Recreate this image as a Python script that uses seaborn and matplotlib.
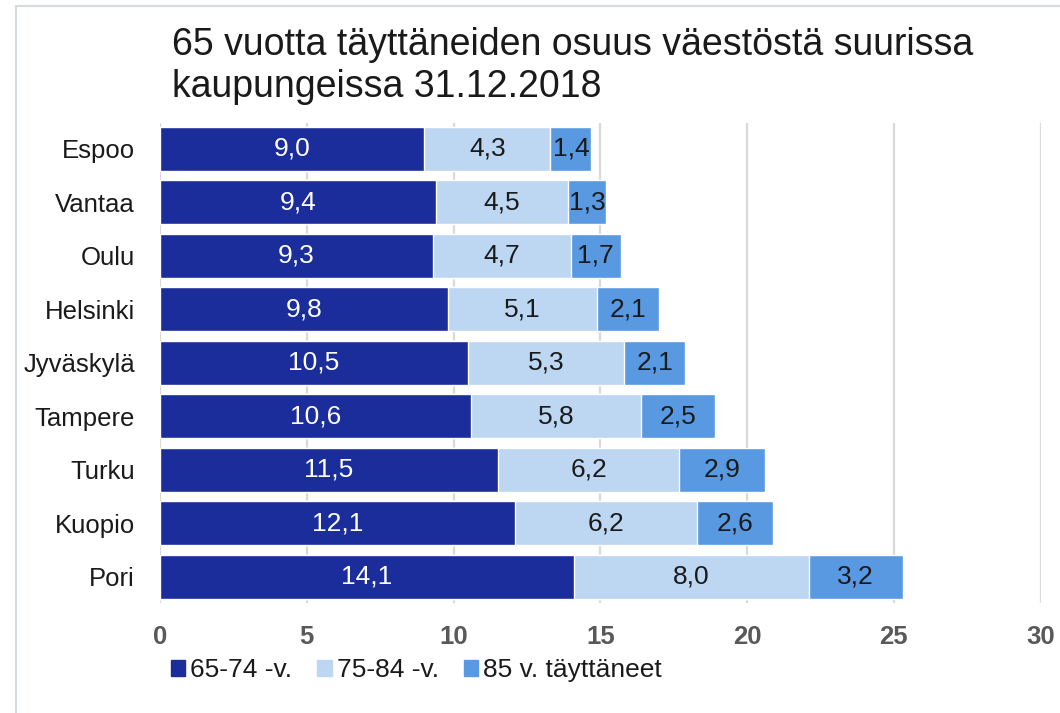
import matplotlib
matplotlib.use("Agg")
import matplotlib.pyplot as plt
import matplotlib.patches as mpatches
import seaborn as sns
import pandas as pd

cities = ["Espoo", "Vantaa", "Oulu", "Helsinki", "Jyväskylä", "Tampere", "Turku", "Kuopio", "Pori"]
age_65_74 = [9.0, 9.4, 9.3, 9.8, 10.5, 10.6, 11.5, 12.1, 14.1]
age_75_84 = [4.3, 4.5, 4.7, 5.1, 5.3, 5.8, 6.2, 6.2, 8.0]
age_85 = [1.4, 1.3, 1.7, 2.1, 2.1, 2.5, 2.9, 2.6, 3.2]
series_names = ["65-74 -v.", "75-84 -v.", "85 v. täyttäneet"]
colors = ["#1B2D9A", "#BDD7F3", "#5899E2"]
title = "65 vuotta täyttäneiden osuus väestöstä suurissa\nkaupungeissa 31.12.2018"
xticks = [0, 5, 10, 15, 20, 25, 30]

sns.set_theme(style="white")
plt.rcParams['font.family'] = ['Liberation Sans', 'DejaVu Sans']

W, H = 1060, 713
df = pd.DataFrame({"city": cities, "a": age_65_74, "b": age_75_84, "c": age_85})
df["ab"] = df["a"] + df["b"]
df["abc"] = df["ab"] + df["c"]

fig = plt.figure(figsize=(W / 100, H / 100), dpi=100)
ax = fig.add_axes([160 / W, 1 - 603 / H, (1040.5 - 160) / W, (603 - 122.7) / H])

bw = 0.82
sns.barplot(data=df, y="city", x="abc", color=colors[2], width=bw, ax=ax, saturation=1, orient="h")
sns.barplot(data=df, y="city", x="ab", color=colors[1], width=bw, ax=ax, saturation=1, orient="h")
sns.barplot(data=df, y="city", x="a", color=colors[0], width=bw, ax=ax, saturation=1, orient="h")

ax.set_xlim(0, 30)
ax.set_ylim(len(cities) - 1 + 0.49, -0.49)
ax.set_xticks(xticks)
ax.set_xticklabels([str(t) for t in xticks], fontsize=18.5, fontweight="bold", color="#595959")
ax.tick_params(axis="x", length=0, pad=15.5)
ax.tick_params(axis="y", length=0, pad=18)
for lab in ax.get_yticklabels():
    lab.set_fontsize(18.5)
    lab.set_color("#1a1a1a")
ax.set_xlabel("")
ax.set_ylabel("")
ax.xaxis.grid(True, color="#D9D9D9", linewidth=1.6)
ax.set_axisbelow(True)
for s in ax.spines.values():
    s.set_visible(False)

def fmt(v):
    return f"{v:.1f}".replace(".", ",")

for i in range(len(cities)):
    a, b, c = age_65_74[i], age_75_84[i], age_85[i]
    ax.text(a / 2, i, fmt(a), ha="center", va="center", color="white", fontsize=19)
    ax.text(a + b / 2, i, fmt(b), ha="center", va="center", color="#1a1a1a", fontsize=19)
    ax.text(a + b + c / 2, i, fmt(c), ha="center", va="center", color="#1a1a1a", fontsize=19)

fig.text(172 / W, 1 - 97 / H, title, ha="left", va="baseline", fontsize=27, color="#1a1a1a", linespacing=1.2)

handles = [mpatches.Patch(color=c, label=n) for c, n in zip(colors, series_names)]
leg = fig.legend(handles=handles, loc="center left", bbox_to_anchor=(171 / W, 1 - 670 / H), ncol=3,
                 frameon=False, borderpad=0, borderaxespad=0, handlelength=0.54, handleheight=0.54,
                 handletextpad=0.19, columnspacing=0.95, prop={"size": 19})
for t in leg.get_texts():
    t.set_color("#1a1a1a")

frame = mpatches.Rectangle((16 / W, -0.1), 1.2, 1 - 6 / H + 0.1, transform=fig.transFigure,
                           fill=False, edgecolor="#D5D9E0", linewidth=1.5)
fig.add_artist(frame)

fig.savefig("out.png", dpi=100)
